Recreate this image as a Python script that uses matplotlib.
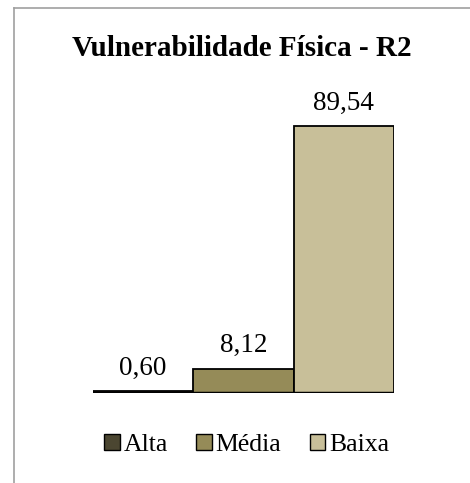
import matplotlib.pyplot as plt
from matplotlib.lines import Line2D
from matplotlib.patches import Patch

categories = ["Alta", "Média", "Baixa"]
values = [0.60, 8.12, 89.54]
colors = ["#4b4631", "#958b58", "#c8bf99"]

plt.rcParams["font.family"] = ["Liberation Serif", "DejaVu Serif"]

fig = plt.figure(figsize=(4.7, 4.83), dpi=100)
ax = fig.add_axes([93 / 470, 1 - 393 / 483, 301 / 470, 298 / 483])

x = list(range(len(categories)))
bars = ax.bar(x, values, width=1.0, color=colors, edgecolor="black", linewidth=1.3)
ax.set_xlim(-0.5, len(categories) - 0.5)
ax.set_ylim(0, 100)

for b, v in zip(bars, values):
    ax.annotate(f"{v:.2f}".replace(".", ","), (b.get_x() + b.get_width() / 2, v),
                xytext=(0, 23), textcoords="offset pixels",
                ha="center", va="center", fontsize=19.5)

ax.axhline(0, color="black", linewidth=2.5)
for s in ax.spines.values():
    s.set_visible(False)
ax.set_xticks([])
ax.set_yticks([])

fig.text(0.515, 1 - 48 / 483, "Vulnerabilidade Física - R2", ha="center", va="center",
         fontsize=21, fontweight="bold")

handles = [Patch(facecolor=c, edgecolor="black", linewidth=1) for c in colors]
fig.legend(handles, categories, loc="center", bbox_to_anchor=(0.525, 1 - 445 / 483),
           ncol=3, frameon=False, fontsize=18.5, handlelength=0.6, handleheight=0.6,
           handletextpad=0.15, columnspacing=1.1)

# outer frame (top and left edges only visible)
fig.add_artist(Line2D([14 / 470, 14 / 470], [0, 1 - 8 / 483], color="#a0a0a0", linewidth=1.2))
fig.add_artist(Line2D([14 / 470, 1], [1 - 8 / 483, 1 - 8 / 483], color="#a0a0a0", linewidth=1.2))

fig.savefig("out.png", dpi=100)
